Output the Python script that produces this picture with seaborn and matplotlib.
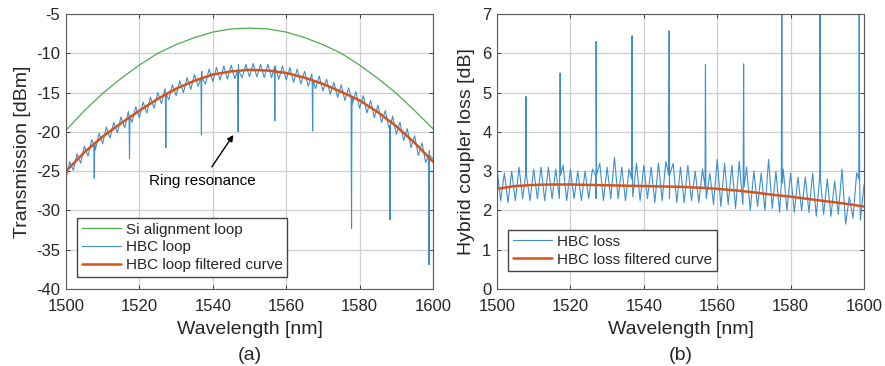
import matplotlib
matplotlib.use("Agg")
import matplotlib.pyplot as plt
import pandas as pd
import seaborn as sns

# ---------------- data ----------------
wl_5nm = list(range(1500, 1601, 5))
si_loop = [-19.8, -17.3, -15.1, -13.2, -11.5, -10.0, -8.9, -8.0, -7.3, -6.9, -6.8,
           -6.9, -7.3, -8.0, -8.9, -10.0, -11.5, -13.2, -15.1, -17.3, -19.6]
hbc_loop_filtered = [-25.0, -22.6, -20.6, -18.9, -17.3, -15.8, -14.5, -13.5, -12.7, -12.3, -12.1,
                     -12.2, -12.5, -13.1, -13.9, -14.9, -16.0, -17.5, -19.3, -21.4, -23.8]

wl_1nm = list(range(1500, 1601))
hbc_loop = [-25.9, -23.8, -24.9, -22.8, -24.0, -21.8, -23.1, -21.0, -22.3, -20.2,
            -21.5, -19.4, -20.8, -18.8, -20.1, -18.1, -19.5, -17.4, -18.8, -16.8,
            -18.2, -16.2, -17.6, -15.6, -17.0, -15.0, -16.4, -14.5, -15.9, -14.0,
            -15.4, -13.5, -15.0, -13.1, -14.6, -12.7, -14.2, -12.3, -13.9, -12.0,
            -13.6, -11.8, -13.4, -11.6, -13.3, -11.5, -13.2, -11.4, -13.1, -11.4,
            -13.0, -11.3, -13.0, -11.4, -13.1, -11.4, -13.1, -11.6, -13.3, -11.6,
            -13.4, -11.8, -13.7, -12.0, -13.9, -12.3, -14.2, -12.6, -14.5, -12.9,
            -14.8, -13.3, -15.2, -13.7, -15.6, -14.0, -16.0, -14.4, -16.5, -14.9,
            -17.0, -15.4, -17.6, -16.0, -18.2, -16.6, -18.8, -17.3, -19.5, -18.0,
            -20.3, -18.8, -21.1, -19.6, -22.0, -20.5, -23.0, -21.4, -23.9, -22.4,
            -23.4]
# ring resonance dips (left panel)
dip_wl = [1507.7, 1517.3, 1527.2, 1536.9, 1546.9, 1556.9, 1567.2, 1577.8, 1588.3, 1598.9]
dip_top = [-21.6, -18.0, -15.2, -13.1, -12.2, -11.8, -13.4, -15.6, -19.2, -23.0]
dip_bottom = [-25.9, -23.4, -22.0, -20.4, -20.0, -18.6, -19.9, -32.3, -31.2, -36.9]

hbc_loss = [3.05, 2.25, 2.95, 2.20, 3.00, 2.25, 3.10, 2.30, 3.15, 2.25,
            3.05, 2.30, 3.10, 2.25, 3.10, 2.30, 3.05, 2.30, 3.15, 2.25,
            3.05, 2.30, 3.00, 2.25, 3.00, 2.30, 3.05, 2.30, 3.20, 2.25,
            3.10, 2.30, 3.35, 2.30, 3.10, 2.25, 3.05, 2.35, 3.20, 2.25,
            3.15, 2.30, 3.10, 2.20, 3.20, 2.25, 3.25, 2.30, 3.20, 2.20,
            3.10, 2.20, 3.15, 2.25, 3.00, 2.20, 3.05, 2.30, 2.95, 2.15,
            3.30, 2.10, 3.20, 2.15, 3.15, 2.05, 3.25, 2.15, 3.10, 2.00,
            3.00, 2.10, 2.95, 2.00, 3.30, 2.05, 3.00, 1.95, 3.05, 2.00,
            2.95, 1.95, 2.85, 2.00, 2.85, 1.95, 2.95, 1.85, 3.00, 1.90,
            2.80, 1.85, 2.75, 1.90, 3.05, 1.65, 2.35, 1.80, 2.95, 1.75,
            2.65]
hbc_loss_filtered = [2.55, 2.62, 2.65, 2.66, 2.66, 2.65, 2.64, 2.63, 2.62, 2.61, 2.60,
                     2.58, 2.55, 2.51, 2.46, 2.40, 2.35, 2.29, 2.23, 2.17, 2.10]
# ring resonance spikes (right panel)
spike_wl = [1507.9, 1517.2, 1527.0, 1536.8, 1546.9, 1556.8, 1567.2, 1577.6, 1588.0, 1598.7]
spike_base = [2.9, 2.9, 2.9, 2.8, 2.9, 2.6, 2.6, 2.7, 2.8, 2.8]
spike_top = [4.9, 5.5, 6.3, 6.45, 6.57, 5.72, 5.73, 8.0, 8.0, 8.0]

xticks = [1500, 1520, 1540, 1560, 1580, 1600]
yticks_a = [-40, -35, -30, -25, -20, -15, -10, -5]
yticks_b = [0, 1, 2, 3, 4, 5, 6, 7]


def with_events(wl, vals, ev_wl, ev_base, ev_peak, half=0.12):
    pts = list(zip(wl, vals))
    for w, b, p in zip(ev_wl, ev_base, ev_peak):
        pts += [(w - half, b), (w, p), (w + half, b)]
    pts.sort(key=lambda t: t[0])
    return pd.DataFrame(pts, columns=["wl", "val"])


sns.set_theme(style="whitegrid")
plt.rcParams["font.family"] = ["Liberation Sans", "DejaVu Sans"]
plt.rcParams["axes.unicode_minus"] = False
plt.rcParams["axes.edgecolor"] = "#5a5a5a"
plt.rcParams["axes.linewidth"] = 0.8
plt.rcParams["grid.color"] = "#cfcfcf"
plt.rcParams["grid.linewidth"] = 0.9
plt.rcParams["xtick.color"] = "#262626"
plt.rcParams["ytick.color"] = "#262626"

BLUE = "#3a90d2"
ORANGE = "#D95319"
GREEN = "#4fab4f"

fig = plt.figure(figsize=(8.85, 3.66), dpi=100)
ax1 = fig.add_axes([66 / 885, 77 / 366, 367 / 885, 275 / 366])
ax2 = fig.add_axes([497 / 885, 77 / 366, 367 / 885, 275 / 366])

# ---------------- panel (a) ----------------
df_si = pd.DataFrame({"wl": wl_5nm, "val": si_loop})
df_fa = pd.DataFrame({"wl": wl_5nm, "val": hbc_loop_filtered})
df_la = with_events(wl_1nm, hbc_loop, dip_wl, dip_top, dip_bottom)

sns.lineplot(data=df_si, x="wl", y="val", ax=ax1, color=GREEN, lw=0.9,
             estimator=None, sort=False, label="Si alignment loop")
sns.lineplot(data=df_la, x="wl", y="val", ax=ax1, color=BLUE, lw=0.8,
             estimator=None, sort=False, label="HBC loop")
sns.lineplot(data=df_fa, x="wl", y="val", ax=ax1, color=ORANGE, lw=1.8,
             estimator=None, sort=False, label="HBC loop filtered curve")
ax1.set_xlim(1500, 1600)
ax1.set_ylim(-40, -5)
ax1.set_yticks(yticks_a)
ax1.set_ylabel("Transmission [dBm]", fontsize=14, labelpad=4)
ax1.annotate("Ring resonance", xy=(1545.6, -20.4), xytext=(1537.2, -26.2),
             ha="center", va="center", fontsize=11, color="black",
             arrowprops=dict(arrowstyle="-|>", color="black", lw=1.0,
                             mutation_scale=9, shrinkA=3, shrinkB=0))
ax1.legend(loc="lower left", bbox_to_anchor=(0.03, 0.044), borderaxespad=0,
           fontsize=11, frameon=True, fancybox=False, edgecolor="#444444",
           framealpha=1, handlelength=2.6, handletextpad=0.3, labelspacing=0.25,
           borderpad=0.3)

# ---------------- panel (b) ----------------
df_lb = with_events(wl_1nm, hbc_loss, spike_wl, spike_base, spike_top)
df_fb = pd.DataFrame({"wl": wl_5nm, "val": hbc_loss_filtered})
sns.lineplot(data=df_lb, x="wl", y="val", ax=ax2, color=BLUE, lw=0.8,
             estimator=None, sort=False, label="HBC loss")
sns.lineplot(data=df_fb, x="wl", y="val", ax=ax2, color=ORANGE, lw=1.8,
             estimator=None, sort=False, label="HBC loss filtered curve")
ax2.set_xlim(1500, 1600)
ax2.set_ylim(0, 7)
ax2.set_yticks(yticks_b)
ax2.set_ylabel("Hybrid coupler loss [dB]", fontsize=14, labelpad=5)
ax2.legend(loc="lower left", bbox_to_anchor=(0.03, 0.065), borderaxespad=0,
           fontsize=11, frameon=True, fancybox=False, edgecolor="#444444",
           framealpha=1, handlelength=2.6, handletextpad=0.3, labelspacing=0.25,
           borderpad=0.3)

for ax, tag in ((ax1, "(a)"), (ax2, "(b)")):
    ax.set_xticks(xticks)
    ax.set_xlabel("Wavelength [nm]", fontsize=14, labelpad=5)
    ax.tick_params(axis="both", which="both", direction="in", length=3,
                   width=0.6, labelsize=12, top=True, right=True,
                   bottom=True, left=True)
    ax.tick_params(axis="x", pad=7)
    ax.tick_params(axis="y", pad=4)
    ax.grid(True)
    for s in ax.spines.values():
        s.set_visible(True)
        s.set_color("#5a5a5a")
    ax.text(0.5, -0.24, tag, transform=ax.transAxes, ha="center", va="center",
            fontsize=14)

fig.savefig("out.png", dpi=100)
